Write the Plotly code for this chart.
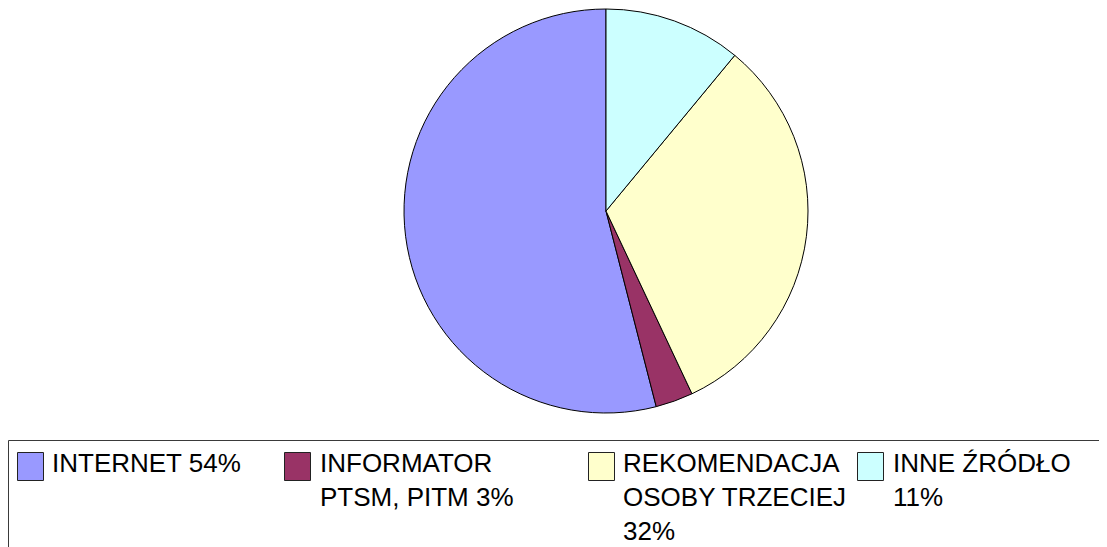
import plotly.graph_objects as go

W, H = 1107, 547
OFF = 8  # default page body margin in the written html

labels = ["INTERNET", "INFORMATOR PTSM, PITM", "REKOMENDACJA OSOBY TRZECIEJ", "INNE ŹRÓDŁO"]
values = [54, 3, 32, 11]
legend_texts = ["INTERNET 54%", "INFORMATOR<br>PTSM, PITM 3%", "REKOMENDACJA<br>OSOBY TRZECIEJ<br>32%", "INNE ŹRÓDŁO<br>11%"]
colors = ["#9999FF", "#993366", "#FFFFCC", "#CCFFFF"]

def px_x(p):
    return (p - OFF) / W

def px_y(p):
    return 1 - (p - OFF) / H

fig = go.Figure()
fig.add_trace(go.Pie(
    labels=labels,
    values=values,
    sort=False,
    direction="counterclockwise",
    rotation=-360 * values[0] / sum(values),
    marker=dict(colors=colors, line=dict(color="#000000", width=1)),
    textinfo="none",
    showlegend=False,
    domain=dict(x=[px_x(404), px_x(808)], y=[px_y(413), px_y(9)]),
))

box_line = dict(color="#3a3a3a", width=1)
shapes = [
    dict(type="line", xref="paper", yref="paper",
         x0=px_x(8.5), x1=px_x(1140), y0=px_y(440.5), y1=px_y(440.5), line=box_line),
    dict(type="line", xref="paper", yref="paper",
         x0=px_x(8.5), x1=px_x(8.5), y0=px_y(440.5), y1=px_y(580), line=box_line),
]
annotations = []
sym_x = [17, 284, 588, 857]
txt_x = [52, 320, 623, 893]
for i in range(len(labels)):
    shapes.append(dict(type="rect", xref="paper", yref="paper",
                       x0=px_x(sym_x[i] + 0.5), x1=px_x(sym_x[i] + 26.5),
                       y0=px_y(452.5), y1=px_y(480.5),
                       line=dict(color="#222222", width=1), fillcolor=colors[i]))
    annotations.append(dict(xref="paper", yref="paper", x=px_x(txt_x[i] - 2), y=px_y(446),
                            xanchor="left", yanchor="top", align="left", showarrow=False,
                            text=legend_texts[i],
                            font=dict(family="Liberation Sans, Arial, sans-serif", size=26, color="#000000")))

fig.update_layout(
    width=W, height=H,
    margin=dict(l=0, r=0, t=0, b=0),
    paper_bgcolor="#FFFFFF",
    plot_bgcolor="#FFFFFF",
    shapes=shapes,
    annotations=annotations,
    showlegend=False,
)

fig.write_html("out.html")
